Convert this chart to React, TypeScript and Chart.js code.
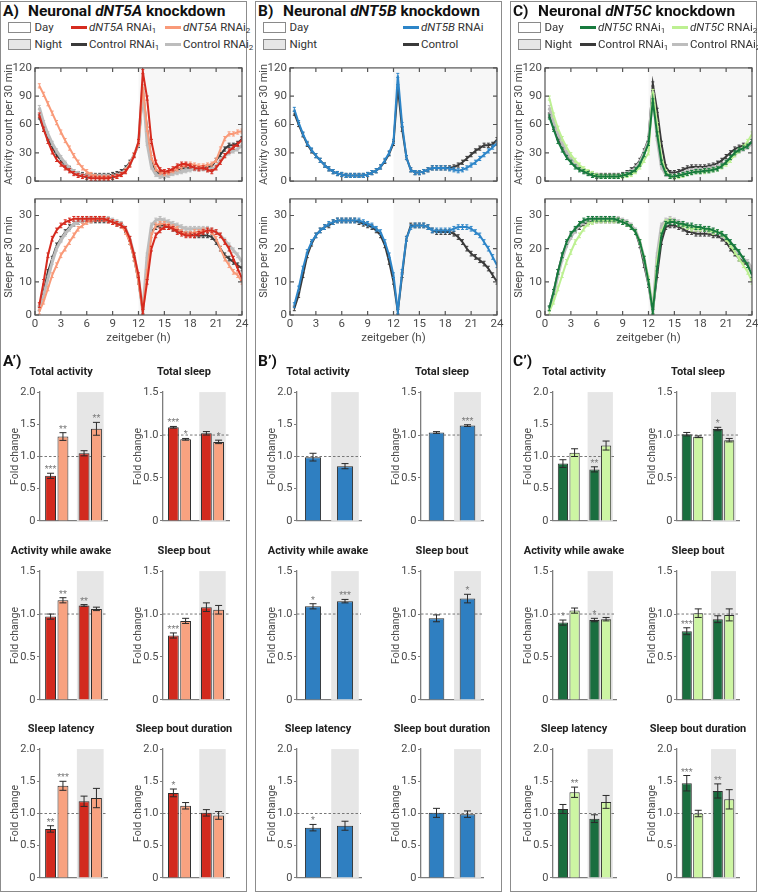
import React, { useEffect, useRef } from "react";
import { Chart, registerables } from "chart.js";
Chart.register(...registerables);
Chart.defaults.font.family = "Roboto, sans-serif";

const FONT = "Roboto, sans-serif";
const TICK = "#4a4a4a";

// ---------- time axis (end of each 30-min bin, zeitgeber h) ----------
const TIMES = [0.5,1,1.5,2,2.5,3,3.5,4,4.5,5,5.5,6,6.5,7,7.5,8,8.5,9,9.5,10,10.5,11,11.5,12,12.5,13,13.5,14,14.5,15,15.5,16,16.5,17,17.5,18,18.5,19,19.5,20,20.5,21,21.5,22,22.5,23,23.5,24];
const X_TICKS = [0,3,6,9,12,15,18,21,24];

// ---------- A: dNT5A activity / sleep ----------
const A_ACT_RNAI1 = [70,55,42,31,23,18,14,11,8,6,5,4,3,3,3,3,3,4,5,7,10,17,27,42,116,88,42,20,12,10,11,13,16,18,18,16,14,13,14,12,10,14,20,27,32,36,39,44];
const A_ACT_RNAI2 = [101,92,82,72,62,52,43,35,27,20,14,10,7,5,4,4,4,4,5,7,11,18,28,40,100,55,25,13,9,8,9,11,13,15,17,18,17,16,16,17,18,22,34,45,50,50,52,53];
const A_ACT_CTRL1 = [68,55,45,36,28,22,17,13,10,8,7,6,6,6,6,6,6,7,8,10,14,20,28,38,95,55,22,10,8,8,9,11,12,13,14,14,14,14,14,15,16,22,28,34,38,38,40,45];
const A_ACT_CTRL2 = [78,62,50,40,32,25,19,14,10,8,6,5,5,5,5,5,5,5,6,8,12,18,28,40,100,40,15,7,5,5,6,8,9,10,11,12,13,13,13,12,12,15,22,27,30,32,34,38];
const A_SLP_RNAI1 = [3,10,18,23,25.5,27,28,28.5,29,29,29,29,29,29,29,29,28.5,28,27.5,27,26,23,18,12,1,10,20,24,25.5,26.5,26.5,26,25,24.5,24,24,24,24.5,25,25.5,25.5,25,24,22,20,17,14,11];
const A_SLP_RNAI2 = [1,4,8,12,15,18,20,22,24,26,27,28,28.5,29,29,29,28.5,28,27.5,27,25,22,17,10,1,13,24,27,27.5,27.5,27,26.5,26,25,24.5,24.5,25,25,25.5,25.5,25,23,20,17,15,13,12,10];
const A_SLP_CTRL1 = [2,7,13,17,21,23,25,26.5,27.5,28,28.5,28.5,28.5,28.5,28.5,28.5,28.5,28,27.5,27,25.5,22,17,10,1,15,25,26.5,27,27,26.5,26,25.5,25,24.5,24.5,24,24,24,24,23.5,22,20,18,17,16,15,14];
const A_SLP_CTRL2 = [2,6,11,16,20,22.5,24.5,26,27.5,28,28.5,29,29,29,29,29,29,28.5,28,27.5,26,23,18,11,1,18,27,28.5,29,28.5,28,27.5,27,26.5,26,26,26,26,26,26,25.5,25,24,22.5,21,19.5,18,16];

// ---------- B: dNT5B ----------
const B_ACT_RNAI = [76,62,50,40,33,27,22,17,13,10,8,7,6,6,6,6,6,7,9,11,15,22,30,42,112,60,25,12,9,9,10,12,14,14,14,14,13,12,11,12,14,17,20,24,28,32,36,40];
const B_ACT_CTRL = [72,60,49,39,32,27,22,17,13,10,8,7,6,6,6,6,6,7,9,11,15,21,29,40,100,55,25,12,9,9,10,12,14,14,14,14,14,15,17,20,24,28,32,35,38,38,39,44];
const B_SLP_RNAI = [3,8,14,19,22,24,25.5,26.5,27.5,28,28.5,28.5,28.5,28.5,28.5,28.5,28,27.5,27,26,25,22,18,12,1,13,23,26.5,27,27,27,26.5,25.5,25.5,25.5,25.5,25.5,26,26.5,26.5,26.5,26,25,24,22,20,17.5,15];
const B_SLP_CTRL = [2,6,12,18,21.5,24,25.5,26.5,27,28,28.5,28.5,28.5,28.5,28.5,28,27.5,27,26.5,25.5,24,21,16,10,1,12,23,27,27,27,27,26.5,25.5,25,25,25,25,24.5,23.5,22,20,18.5,17.5,16.5,15.5,14,12,10];

// ---------- C: dNT5C ----------
const C_ACT_RNAI1 = [68,55,42,33,25,20,15,12,10,8,6,5,5,5,5,5,5,6,7,9,12,18,28,40,85,50,20,8,5,5,6,7,8,9,10,10,11,11,12,13,16,20,25,30,33,35,37,42];
const C_ACT_RNAI2 = [88,70,56,45,36,28,22,17,13,10,8,6,5,5,5,5,5,5,6,7,10,15,22,30,95,60,25,10,5,4,5,6,8,9,10,10,10,11,12,13,15,18,22,28,32,36,42,50];
const C_ACT_CTRL1 = [70,57,46,37,29,23,18,14,11,9,8,6,6,6,6,6,6,7,9,12,16,22,32,45,103,75,40,15,9,9,10,12,14,15,15,15,15,16,17,19,22,26,30,34,36,38,38,42];
const C_ACT_CTRL2 = [78,62,50,40,31,24,18,14,10,8,6,5,5,5,5,5,5,6,8,10,14,20,30,42,95,45,15,7,5,5,6,8,10,11,12,12,12,13,14,15,17,20,24,28,32,34,36,40];
const C_SLP_RNAI1 = [2,7,13,18,22,24.5,26,27.5,28.5,29,29,29,29,29,29,29,28.5,28,27.5,26.5,25,22,17,10,1,14,24,27.5,28,28,27.5,27.5,27,27,26.5,26.5,26,26,25.5,25,24.5,23.5,22,20.5,19,17,15,12];
const C_SLP_RNAI2 = [1,4,8,12,16,19,22,24,26,27.5,28,28.5,28.5,28.5,28.5,28.5,28.5,28,27.5,26.5,25,22,17,11,1,16,25,28,28.5,28,27.5,27,26.5,26,26,26,26,25.5,25,25,24.5,23,21,19,17,15,13,10];
const C_SLP_CTRL1 = [2,7,13,18,21.5,24,25.5,26.5,27.5,28,28.5,28.5,28.5,28.5,28.5,28.5,28.5,28,27.5,26.5,25,21,15,9,1,12,22,26.5,27,27,26.5,26,25,25,24.5,24.5,24.5,24.5,24,24,23,22,20,18.5,17,16,15,14];
const C_SLP_CTRL2 = [2,6,12,17,21,23.5,25.5,27,28,28.5,29,29,29,29,29,29,29,28.5,28,27,25.5,22,17,10,1,18,27,28.5,29,28.5,28,27.5,27,26.5,26,26,26,25.5,25.5,25,24,23,21.5,20,18.5,17,16,14];

// SEM per series (activity, sleep)
const SEM_ACT = 2.2;
const SEM_SLP = 0.7;

// ---------- bar charts: fold change [day, night] ----------
const METRICS = ["Total activity","Total sleep","Activity while awake","Sleep bout","Sleep latency","Sleep bout duration"];
const METRIC_MAX = [2, 1.5, 1.5, 1.5, 2, 2];

const A_FC1 = [[0.70,1.05],[1.09,1.02],[0.97,1.10],[0.75,1.08],[0.76,1.19],[1.32,1.01]];
const A_ER1 = [[0.04,0.04],[0.01,0.02],[0.03,0.01],[0.03,0.05],[0.05,0.08],[0.06,0.05]];
const A_ST1 = [["***",""],["***",""],["","**"],["***",""],["**",""],["*",""]];
const A_FC2 = [[1.31,1.43],[0.95,0.92],[1.16,1.06],[0.92,1.05],[1.43,1.24],[1.12,0.97]];
const A_ER2 = [[0.06,0.10],[0.01,0.02],[0.03,0.02],[0.03,0.05],[0.07,0.15],[0.05,0.06]];
const A_ST2 = [["**","**"],["*","*"],["**",""],["",""],["***",""],["",""]];

const B_FC = [[0.99,0.85],[1.03,1.11],[1.09,1.15],[0.95,1.18],[0.78,0.81],[1.01,0.99]];
const B_ER = [[0.06,0.04],[0.01,0.01],[0.03,0.02],[0.04,0.05],[0.05,0.07],[0.07,0.05]];
const B_ST = [["",""],["","***"],["*","***"],["","*"],["*",""],["",""]];

const C_FC1 = [[0.89,0.80],[1.01,1.07],[0.90,0.93],[0.80,0.94],[1.07,0.92],[1.47,1.35]];
const C_ER1 = [[0.06,0.04],[0.02,0.02],[0.03,0.02],[0.04,0.04],[0.07,0.06],[0.12,0.11]];
const C_ST1 = [["","**"],["","*"],["*","*"],["***",""],["",""],["***","**"]];
const C_FC2 = [[1.06,1.17],[0.98,0.94],[1.04,0.94],[1.01,0.99],[1.33,1.18],[1.00,1.22]];
const C_ER2 = [[0.06,0.07],[0.01,0.02],[0.03,0.02],[0.05,0.07],[0.08,0.10],[0.05,0.15]];
const C_ST2 = [["",""],["",""],["",""],["",""],["**",""],["",""]];

// ---------- colours ----------
const RED = "#d62b1f", SALMON = "#f99a79", DARK = "#3a3a3a", LGRAY = "#bdbdbd";
const BLUE = "#2d85c8", DGREEN = "#177a3e", LGREEN = "#bdf092";
const BAR_RED = "#d22a1e", BAR_SALMON = "#f8a280", BAR_BLUE = "#2f7fc1", BAR_DGREEN = "#1a6e3f", BAR_LGREEN = "#cdf5a3";

type Line = { data: number[]; color: string; width: number; sem: number };

function lineConfig(series: Line[], yMax: number, yStep: number, yTitle: string, showX: boolean) {
  const sems = series.map((s) => s.sem);
  const plugin = {
    id: "linedeco",
    beforeDatasetsDraw(chart: any) {
      const { ctx, chartArea: a, scales } = chart;
      const x0 = scales.x.getPixelForValue(12);
      ctx.save();
      ctx.fillStyle = "#f7f7f7";
      ctx.fillRect(x0, a.top, a.right - x0, a.bottom - a.top);
      ctx.restore();
    },
    afterDatasetDraw(chart: any, args: any) {
      const { ctx, chartArea: a, scales } = chart;
      const ds = chart.data.datasets[args.index];
      const e = sems[args.index];
      ctx.save();
      ctx.beginPath();
      ctx.rect(a.left, a.top, a.right - a.left, a.bottom - a.top);
      ctx.clip();
      ctx.strokeStyle = ds.borderColor;
      ctx.lineWidth = 1;
      args.meta.data.forEach((el: any, i: number) => {
        const v = ds.data[i].y;
        const y1 = scales.y.getPixelForValue(v + e);
        const y2 = scales.y.getPixelForValue(Math.max(0, v - e));
        ctx.beginPath();
        ctx.moveTo(el.x, y1); ctx.lineTo(el.x, y2);
        ctx.moveTo(el.x - 1.5, y1); ctx.lineTo(el.x + 1.5, y1);
        ctx.moveTo(el.x - 1.5, y2); ctx.lineTo(el.x + 1.5, y2);
        ctx.stroke();
      });
      ctx.restore();
    },
    afterDraw(chart: any) {
      const { ctx, chartArea: a, scales } = chart;
      ctx.save();
      ctx.strokeStyle = "#555";
      ctx.lineWidth = 1.2;
      ctx.strokeRect(a.left, a.top, a.right - a.left, a.bottom - a.top);
      ctx.beginPath();
      scales.x.ticks.forEach((t: any) => {
        const px = scales.x.getPixelForValue(t.value);
        ctx.moveTo(px, a.top); ctx.lineTo(px, a.top + 4);
        ctx.moveTo(px, a.bottom); ctx.lineTo(px, a.bottom - 4);
      });
      scales.y.ticks.forEach((t: any) => {
        const py = scales.y.getPixelForValue(t.value);
        ctx.moveTo(a.left, py); ctx.lineTo(a.left + 4, py);
        ctx.moveTo(a.right, py); ctx.lineTo(a.right - 4, py);
      });
      ctx.stroke();
      ctx.restore();
    },
  };
  return {
    type: "line",
    data: {
      datasets: series.map((s) => ({
        data: TIMES.map((t, i) => ({ x: t, y: s.data[i] })),
        borderColor: s.color,
        backgroundColor: s.color,
        borderWidth: s.width,
        pointRadius: 0,
        tension: 0,
        fill: false,
      })),
    },
    options: {
      responsive: false,
      maintainAspectRatio: false,
      animation: false,
      layout: { padding: { top: 8, right: 12, left: 0, bottom: 0 } },
      plugins: { legend: { display: false }, tooltip: { enabled: false } },
      scales: {
        x: {
          type: "linear", min: 0, max: 24,
          afterBuildTicks: (s: any) => { s.ticks = X_TICKS.map((v) => ({ value: v })); },
          ticks: { display: showX, padding: 2.5, color: TICK, font: { size: 11.5 }, maxRotation: 0, autoSkip: false },
          grid: { display: false, drawTicks: false },
          border: { display: false },
          title: { display: showX, text: "zeitgeber (h)", color: TICK, font: { size: 11.5 }, padding: { top: 0, bottom: 1 } },
          afterFit: (s: any) => { s.height = showX ? 31 : 8; },
        },
        y: {
          min: 0, max: yMax,
          ticks: { stepSize: yStep, padding: 3, color: TICK, font: { size: 11.5 } },
          grid: { display: false, drawTicks: false },
          border: { display: false },
          title: { display: true, text: yTitle, color: TICK, font: { size: 11 }, padding: { top: 1, bottom: 0 } },
          afterFit: (s: any) => { s.width = 33; },
        },
      },
    },
    plugins: [plugin],
  };
}

type BarSeries = { vals: number[][]; errs: number[][]; stars: string[][]; fill: string };

function barConfig(series: BarSeries[], m: number, catPct: number, barPct: number) {
  const yMax = METRIC_MAX[m];
  const plugin = {
    id: "bardeco",
    beforeDatasetsDraw(chart: any) {
      const { ctx, chartArea: a, scales } = chart;
      const catW = (a.right - a.left) / 2;
      const cx = scales.x.getPixelForValue(1);
      const half = (catW * catPct) / 2 + 1;
      ctx.save();
      ctx.fillStyle = "#e6e6e6";
      ctx.fillRect(cx - half, a.top, half * 2, a.bottom - a.top);
      const y1 = scales.y.getPixelForValue(1);
      ctx.strokeStyle = "#777";
      ctx.lineWidth = 1;
      ctx.setLineDash([2.5, 2]);
      ctx.beginPath();
      ctx.moveTo(a.left, y1); ctx.lineTo(a.right, y1);
      ctx.stroke();
      ctx.restore();
    },
    afterDatasetsDraw(chart: any) {
      const { ctx, scales } = chart;
      ctx.save();
      series.forEach((s, i) => {
        const meta = chart.getDatasetMeta(i);
        meta.data.forEach((el: any, j: number) => {
          const v = s.vals[m][j], e = s.errs[m][j];
          const yt = scales.y.getPixelForValue(v + e);
          const yb = scales.y.getPixelForValue(v - e);
          ctx.strokeStyle = "#2a2a2a";
          ctx.lineWidth = 1;
          ctx.setLineDash([]);
          ctx.beginPath();
          ctx.moveTo(el.x, yt); ctx.lineTo(el.x, yb);
          ctx.moveTo(el.x - 3.5, yt); ctx.lineTo(el.x + 3.5, yt);
          ctx.moveTo(el.x - 3.5, yb); ctx.lineTo(el.x + 3.5, yb);
          ctx.stroke();
          const st = s.stars[m][j];
          if (st) {
            ctx.fillStyle = "#7a7a7a";
            ctx.font = "9px " + FONT;
            ctx.textAlign = "center";
            ctx.textBaseline = "alphabetic";
            ctx.fillText(st, el.x, yt - 1);
          }
        });
      });
      ctx.restore();
    },
  };
  return {
    type: "bar",
    data: {
      labels: ["Day", "Night"],
      datasets: series.map((s) => ({
        data: s.vals[m],
        backgroundColor: s.fill,
        borderColor: "#2e2e2e",
        borderWidth: 1,
        borderSkipped: "bottom",
        categoryPercentage: catPct,
        barPercentage: barPct,
      })),
    },
    options: {
      responsive: false,
      maintainAspectRatio: false,
      animation: false,
      layout: { padding: { top: 8, right: 4, left: 0, bottom: 0 } },
      plugins: { legend: { display: false }, tooltip: { enabled: false } },
      scales: {
        x: {
          type: "category",
          ticks: { display: false },
          grid: { display: false, drawTicks: false },
          border: { display: true, color: "#7d7d7d", width: 1.3 },
          afterFit: (s: any) => { s.height = 8; },
        },
        y: {
          min: 0, max: yMax,
          ticks: { stepSize: 0.5, padding: 1.5, color: TICK, font: { size: 11 }, callback: (v: any) => (v === 0 ? "0" : Number(v).toFixed(1)) },
          grid: { display: true, drawOnChartArea: false, drawTicks: true, tickLength: 3, color: "#7d7d7d" },
          border: { display: true, color: "#7d7d7d", width: 1.3 },
          title: { display: true, text: "Fold change", color: TICK, font: { size: 10.5 }, padding: { top: 3.5, bottom: 0 } },
          afterFit: (s: any) => { s.width = 34; },
        },
      },
    },
    plugins: [plugin],
  };
}

function ChartBox({ left, top, width, height, make }: { left: number; top: number; width: number; height: number; make: () => any }) {
  const ref = useRef<HTMLCanvasElement | null>(null);
  useEffect(() => {
    const chart = new Chart(ref.current as HTMLCanvasElement, make());
    return () => chart.destroy();
  }, []);
  return (
    <canvas
      ref={ref}
      width={width}
      height={height}
      style={{ position: "absolute", left, top, width, height, display: "block" }}
    />
  );
}

// ---------- layout ----------
const ACT_TOP = 66, ACT_H = 117, SLP_TOP = 197, SLP_H = 118, LINE_W = 207;
const ROW_TOPS = [392, 571, 749];
const BAR_H = 129;

type Col = {
  key: string;
  gene: string;
  border: number;
  linePL: number;
  barPL: number[];
  barPW: number[];
  act: Line[];
  slp: Line[];
  bars: BarSeries[];
  catPct: number;
  barPct: number;
  legend: { label: React.ReactNode; color: string; x: number; row: number }[];
};

const sub = (n: string) => <sub style={{ fontSize: "0.7em", verticalAlign: "-0.25em", lineHeight: 0 }}>{n}</sub>;

const COLS: Col[] = [
  {
    key: "A", gene: "dNT5A", border: 0, linePL: 35, barPL: [40, 163], barPW: [67, 66],
    act: [
      { data: A_ACT_RNAI1, color: RED, width: 2, sem: SEM_ACT },
      { data: A_ACT_RNAI2, color: SALMON, width: 2, sem: SEM_ACT },
      { data: A_ACT_CTRL2, color: LGRAY, width: 3, sem: SEM_ACT },
      { data: A_ACT_CTRL1, color: DARK, width: 2, sem: SEM_ACT },
    ],
    slp: [
      { data: A_SLP_RNAI1, color: RED, width: 2, sem: SEM_SLP },
      { data: A_SLP_RNAI2, color: SALMON, width: 2, sem: SEM_SLP },
      { data: A_SLP_CTRL2, color: LGRAY, width: 3, sem: SEM_SLP },
      { data: A_SLP_CTRL1, color: DARK, width: 2, sem: SEM_SLP },
    ],
    bars: [
      { vals: A_FC1, errs: A_ER1, stars: A_ST1, fill: BAR_RED },
      { vals: A_FC2, errs: A_ER2, stars: A_ST2, fill: BAR_SALMON },
    ],
    catPct: 0.74, barPct: 0.88,
    legend: [
      { label: <><i>dNT5A</i> RNAi{sub("1")}</>, color: RED, x: 71, row: 0 },
      { label: <><i>dNT5A</i> RNAi{sub("2")}</>, color: SALMON, x: 165, row: 0 },
      { label: <>Control RNAi{sub("1")}</>, color: DARK, x: 71, row: 1 },
      { label: <>Control RNAi{sub("2")}</>, color: LGRAY, x: 165, row: 1 },
    ],
  },
  {
    key: "B", gene: "dNT5B", border: 255, linePL: 290, barPL: [297, 421], barPW: [64, 62],
    act: [
      { data: B_ACT_RNAI, color: BLUE, width: 2, sem: SEM_ACT },
      { data: B_ACT_CTRL, color: DARK, width: 2, sem: SEM_ACT },
    ],
    slp: [
      { data: B_SLP_RNAI, color: BLUE, width: 2, sem: SEM_SLP },
      { data: B_SLP_CTRL, color: DARK, width: 2, sem: SEM_SLP },
    ],
    bars: [{ vals: B_FC, errs: B_ER, stars: B_ST, fill: BAR_BLUE }],
    catPct: 0.8, barPct: 0.63,
    legend: [
      { label: <><i>dNT5B</i> RNAi</>, color: BLUE, x: 148, row: 0 },
      { label: <>Control</>, color: DARK, x: 148, row: 1 },
    ],
  },
  {
    key: "C", gene: "dNT5C", border: 510, linePL: 545, barPL: [553, 677], barPW: [63, 62],
    act: [
      { data: C_ACT_RNAI1, color: DGREEN, width: 2, sem: SEM_ACT },
      { data: C_ACT_RNAI2, color: LGREEN, width: 2, sem: SEM_ACT },
      { data: C_ACT_CTRL2, color: LGRAY, width: 3, sem: SEM_ACT },
      { data: C_ACT_CTRL1, color: DARK, width: 2, sem: SEM_ACT },
    ],
    slp: [
      { data: C_SLP_RNAI1, color: DGREEN, width: 2, sem: SEM_SLP },
      { data: C_SLP_RNAI2, color: LGREEN, width: 2, sem: SEM_SLP },
      { data: C_SLP_CTRL2, color: LGRAY, width: 3, sem: SEM_SLP },
      { data: C_SLP_CTRL1, color: DARK, width: 2, sem: SEM_SLP },
    ],
    bars: [
      { vals: C_FC1, errs: C_ER1, stars: C_ST1, fill: BAR_DGREEN },
      { vals: C_FC2, errs: C_ER2, stars: C_ST2, fill: BAR_LGREEN },
    ],
    catPct: 0.74, barPct: 0.88,
    legend: [
      { label: <><i>dNT5C</i> RNAi{sub("1")}</>, color: DGREEN, x: 70, row: 0 },
      { label: <><i>dNT5C</i> RNAi{sub("2")}</>, color: LGREEN, x: 162, row: 0 },
      { label: <>Control RNAi{sub("1")}</>, color: DARK, x: 70, row: 1 },
      { label: <>Control RNAi{sub("2")}</>, color: LGRAY, x: 162, row: 1 },
    ],
  },
];

const ROW_Y = [27, 44];

function Panel({ col }: { col: Col }) {
  const L = col.border;
  const textBase: React.CSSProperties = { position: "absolute", fontFamily: FONT, whiteSpace: "nowrap" };
  const items: React.ReactNode[] = [];
  items.push(
    <div key="frame" style={{ position: "absolute", left: L, top: 1, width: 247, height: 891, border: "1.5px solid #8c8c8c", boxSizing: "border-box" }} />
  );
  items.push(
    <div key="hdr" style={{ ...textBase, left: L + 3, top: 3, lineHeight: "16px", fontSize: 15.5, fontWeight: 700, color: "#111" }}>
      <span style={{ display: "inline-block", width: 25 }}>{col.key})</span>Neuronal <i>{col.gene}</i> knockdown
    </div>
  );
  ["Day", "Night"].forEach((t, r) => {
    items.push(
      <div key={"box" + t} style={{ position: "absolute", left: L + 8, top: ROW_Y[r] - 5.5, width: 23, height: 11, border: "1px solid #8a8a8a", background: r ? "#e6e6e6" : "#fff", boxSizing: "border-box" }} />
    );
    items.push(
      <div key={"boxt" + t} style={{ ...textBase, left: L + 34.5, top: ROW_Y[r] - 8, lineHeight: "16px", fontSize: 11.5, color: "#333" }}>{t}</div>
    );
  });
  col.legend.forEach((it, k) => {
    items.push(
      <div key={"ll" + k} style={{ position: "absolute", left: L + it.x, top: ROW_Y[it.row] - 1.5, width: 16, height: 3, background: it.color }} />
    );
    items.push(
      <div key={"lt" + k} style={{ ...textBase, left: L + it.x + 18, top: ROW_Y[it.row] - 8, lineHeight: "16px", fontSize: 11.5, color: "#333" }}>{it.label}</div>
    );
  });
  const pl = col.linePL;
  items.push(
    <ChartBox key="act" left={pl - 33} top={ACT_TOP - 8} width={33 + LINE_W + 12} height={8 + ACT_H + 8}
      make={() => lineConfig(col.act, 120, 30, "Activity count per 30 min", false)} />
  );
  items.push(
    <ChartBox key="slp" left={pl - 33} top={SLP_TOP - 8} width={33 + LINE_W + 12} height={8 + SLP_H + 31}
      make={() => lineConfig(col.slp, 35, 5, "Sleep per 30 min", true)} />
  );
  items.push(
    <div key="sub" style={{ ...textBase, left: L + 3, top: 353, lineHeight: "16px", fontSize: 15.5, fontWeight: 700, color: "#111" }}>{col.key}’)</div>
  );
  METRICS.forEach((name, m) => {
    const r = Math.floor(m / 2), c = m % 2;
    const bl = col.barPL[c], bw = col.barPW[c], bt = ROW_TOPS[r];
    const cx = bl + 21, cy = bt - 20;
    items.push(
      <div key={"bt" + m} style={{ ...textBase, left: cx - 70, width: 140, top: cy - 8, lineHeight: "16px", textAlign: "center", fontSize: 11, fontWeight: 700, color: "#222" }}>{name}</div>
    );
    items.push(
      <ChartBox key={"bc" + m} left={bl - 34} top={bt - 8} width={34 + bw + 4} height={8 + BAR_H + 8}
        make={() => barConfig(col.bars, m, col.catPct, col.barPct)} />
    );
  });
  return <>{items}</>;
}

export default function App() {
  return (
    <div style={{ position: "absolute", left: 0, top: 0, width: 758, height: 894, background: "#fff", overflow: "hidden", fontFamily: FONT }}>
      {COLS.map((c) => <Panel key={c.key} col={c} />)}
    </div>
  );
}
